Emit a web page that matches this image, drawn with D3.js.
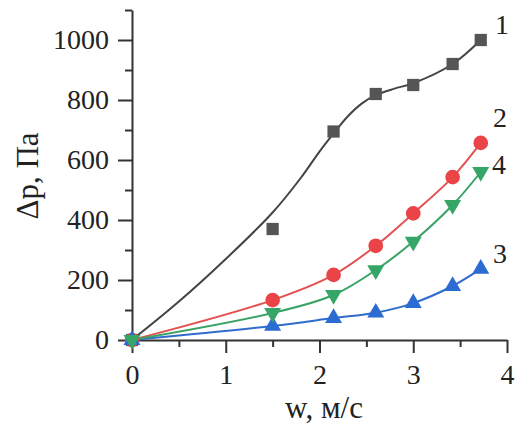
<!DOCTYPE html>
<html lang="ru">
<head>
  <meta charset="UTF-8" />
  <title>Δp(w)</title>
  <script src="https://d3js.org/d3.v7.min.js"></script>
  <style>
    body { margin: 0; background: #fff; }
    svg { display: block; }
    svg text { font-family: "Liberation Serif", "Times New Roman", serif; }
    .axis path, .axis line { stroke: #333; stroke-width: 2; }
    .axis text { font-size: 28px; fill: #222; font-family: "Liberation Serif", serif; }
    .title { font-size: 31px; fill: #222; }
    .lbl { font-size: 28px; fill: #222; }
  </style>
</head>
<body>
  <svg width="515" height="427"></svg>
  <script>
    // measured points
    const w  = [0, 1.5, 2.15, 2.6, 3.0, 3.42, 3.72];
    const p1 = [0, 370, 695, 820, 850, 920, 1000];
    const p2 = [0, 133, 217, 314, 422, 543, 657];
    const p3 = [0, 47, 73, 91, 123, 180, 237];
    const p4 = [0, 90, 150, 233, 328, 450, 560];

    // fitted curve for series 1 (does not pass through every point)
    const fitW = [0, 0.5, 1, 1.5, 1.8, 2.0, 2.15, 2.3, 2.45, 2.6, 2.8, 3.0, 3.42, 3.72];
    const fitP = [0, 128, 270, 425, 540, 628, 688, 745, 788, 816, 838, 856, 920, 1000];

    const xTicks = [0, 1, 2, 3, 4];
    const yTicks = [0, 200, 400, 600, 800, 1000];

    const svg = d3.select("svg");
    const x = d3.scaleLinear().domain([0, 4]).range([132, 507]);
    const y = d3.scaleLinear().domain([0, 1100]).range([340, 10]);

    // minor ticks
    svg.append("g").attr("class", "axis")
      .attr("transform", "translate(0,340)")
      .call(d3.axisBottom(x).tickValues([0.5, 1.5, 2.5, 3.5]).tickSize(7).tickFormat(""))
      .select(".domain").remove();
    svg.append("g").attr("class", "axis")
      .attr("transform", "translate(132,0)")
      .call(d3.axisLeft(y).tickValues([100, 300, 500, 700, 900, 1100]).tickSize(7).tickFormat(""))
      .select(".domain").remove();

    svg.append("g").attr("class", "axis")
      .attr("transform", "translate(0,340)")
      .call(d3.axisBottom(x).tickValues(xTicks).tickFormat(d3.format("d"))
        .tickSize(13).tickSizeOuter(0).tickPadding(10))
      .selectAll("text").attr("dy", "0.74em");
    svg.append("g").attr("class", "axis")
      .attr("transform", "translate(132,0)")
      .call(d3.axisLeft(y).tickValues(yTicks).tickFormat(d3.format("d"))
        .tickSize(14).tickSizeOuter(0).tickPadding(9));

    svg.append("text").attr("class", "title")
      .attr("x", 324).attr("y", 418).attr("text-anchor", "middle")
      .text("w, м/с");
    svg.append("text").attr("class", "title")
      .attr("transform", "translate(38,176) rotate(-90)")
      .attr("text-anchor", "middle")
      .text("Δp, Па");

    const line = d3.line().x(d => x(d[0])).y(d => y(d[1])).curve(d3.curveCatmullRom.alpha(0.5));
    const pts = arr => w.map((v, i) => [v, arr[i]]);

    const series = [
      { name: "1", vals: p1, line: "#444", fill: "#555", sym: d3.symbolSquare, size: 150, rot: 0, fit: fitW.map((v, i) => [v, fitP[i]]) },
      { name: "2", vals: p2, line: "#e35252", fill: "#ea4448", sym: d3.symbolCircle, size: 170, rot: 0 },
      { name: "3", vals: p3, line: "#2f6ccc", fill: "#2b6bd2", sym: d3.symbolTriangle, size: 125, rot: 0 },
      { name: "4", vals: p4, line: "#3ba266", fill: "#36a668", sym: d3.symbolTriangle, size: 125, rot: 180 }
    ];

    series.forEach(s => {
      svg.append("path")
        .datum(s.fit || pts(s.vals))
        .attr("fill", "none")
        .attr("stroke", s.line)
        .attr("stroke-width", 2)
        .attr("d", line);
    });
    series.forEach(s => {
      svg.append("g").selectAll("path")
        .data(pts(s.vals))
        .join("path")
        .attr("d", d3.symbol().type(s.sym).size(s.size))
        .attr("transform", d => `translate(${x(d[0])},${y(d[1])}) rotate(${s.rot})`)
        .attr("fill", s.fill);
    });

    const labels = [
      { t: "1", x: 502, y: 34 },
      { t: "2", x: 500, y: 127 },
      { t: "4", x: 499, y: 174 },
      { t: "3", x: 500, y: 263 }
    ];
    svg.selectAll(".lbl").data(labels).join("text")
      .attr("class", "lbl")
      .attr("x", d => d.x).attr("y", d => d.y)
      .attr("text-anchor", "middle")
      .text(d => d.t);
  </script>
</body>
</html>
